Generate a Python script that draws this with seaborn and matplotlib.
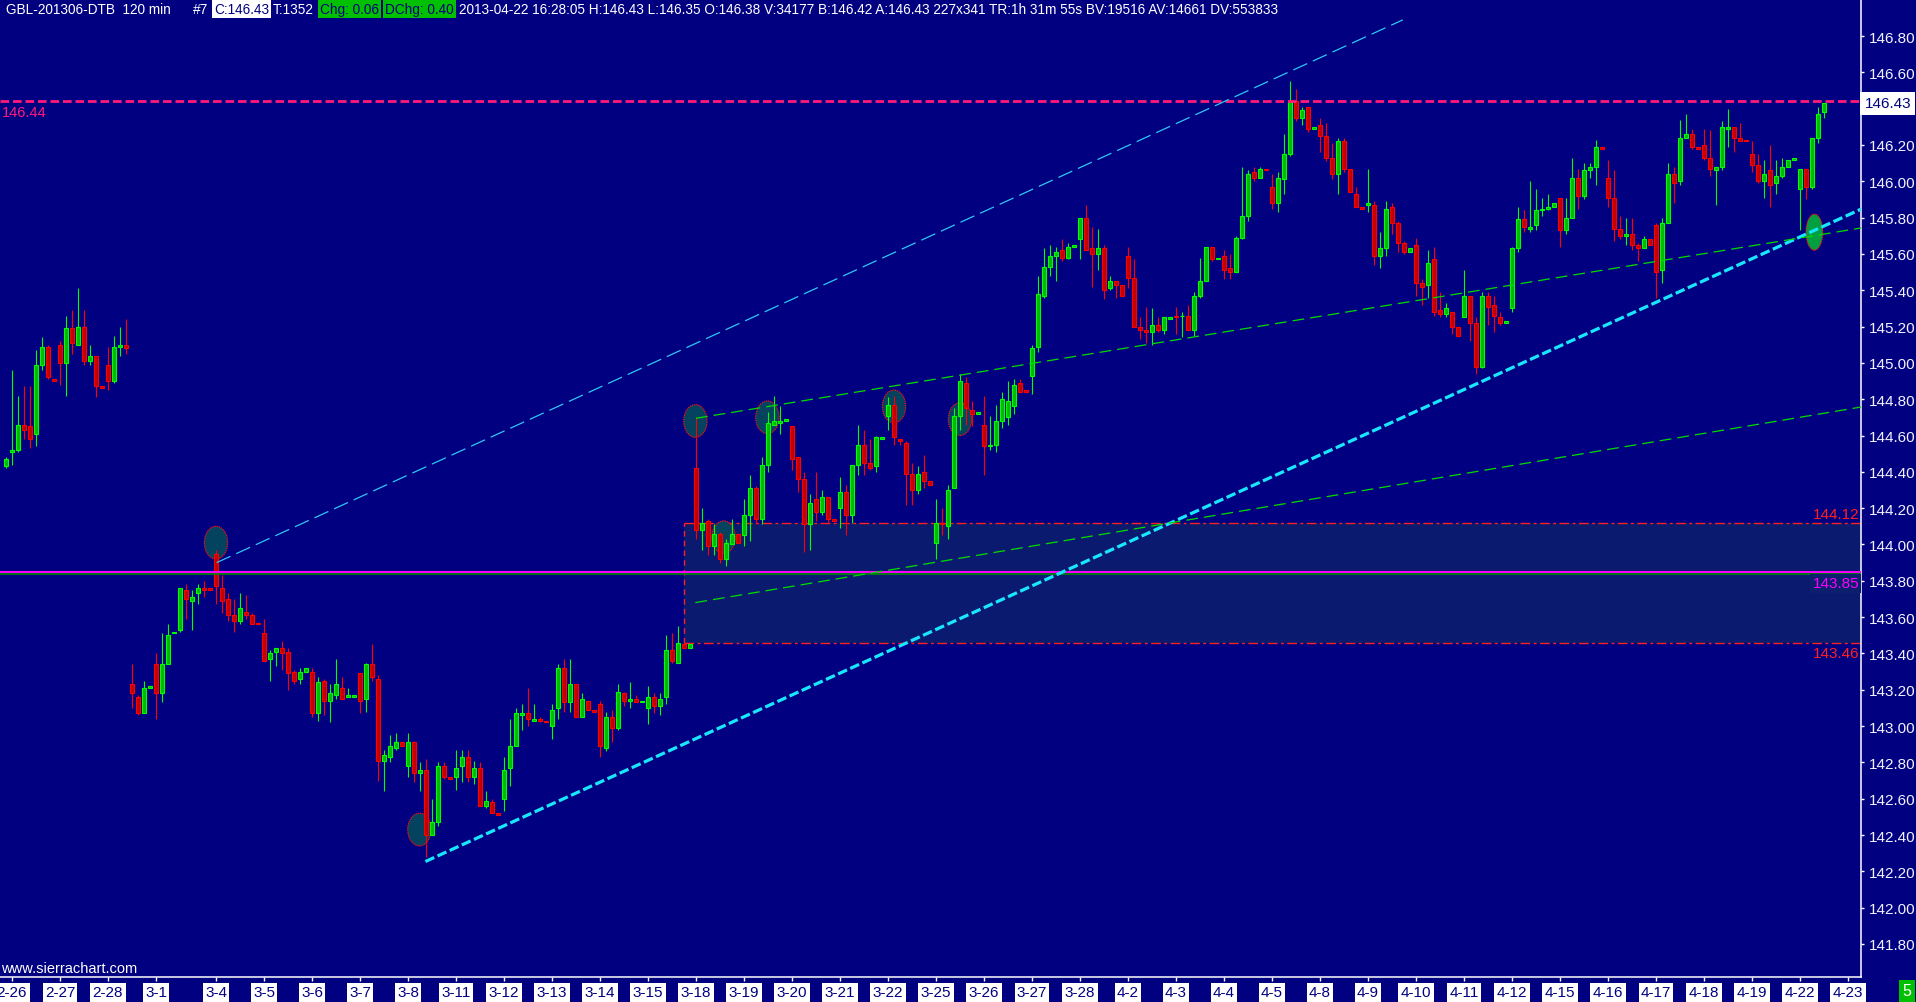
import numpy as np
import pandas as pd
import matplotlib
matplotlib.use("Agg")
import matplotlib.pyplot as plt
from matplotlib.patches import Ellipse, Rectangle
import seaborn as sns

# 120 min bars of GBL-201306-DTB, one entry per bar (bar index = x position)
opens = [
    144.43, 144.51, 144.52, 144.66, 144.65, 144.61, 144.99, 145.09, 144.91, 145.10,
    145.00, 145.19, 145.10, 145.20, 145.01, 145.04, 144.87, 144.99, 144.90, 145.09,
    145.10, 143.23, 143.16, 143.07, 143.21, 143.34, 143.18, 143.34, 143.51, 143.53,
    143.75, 143.69, 143.73, 143.76, 143.76, 143.95, 143.76, 143.70, 143.61, 143.58,
    143.63, 143.61, 143.57, 143.51, 143.37, 143.41, 143.43, 143.41, 143.30, 143.26,
    143.30, 143.30, 143.07, 143.25, 143.14, 143.17, 143.21, 143.16, 143.16, 143.29,
    143.15, 143.34, 143.26, 142.81, 142.83, 142.88, 142.91, 142.78, 142.91, 142.74,
    142.76, 142.40, 142.47, 142.78, 142.72, 142.72, 142.78, 142.83, 142.72, 142.77,
    142.56, 142.58, 142.52, 142.60, 142.77, 142.89, 143.06, 143.07, 143.03, 143.04,
    143.03, 143.00, 143.10, 143.32, 143.13, 143.23, 143.05, 143.14, 143.09, 143.12,
    142.88, 143.05, 142.99, 143.18, 143.14, 143.15, 143.13, 143.10, 143.16, 143.11,
    143.16, 143.42, 143.35, 143.45, 143.43, 144.42, 144.08, 144.13, 143.99, 144.06,
    143.92, 144.00, 144.06, 144.05, 144.16, 144.31, 144.14, 144.44, 144.66, 144.67,
    144.68, 144.65, 144.48, 144.36, 144.11, 144.25, 144.18, 144.26, 144.14, 144.20,
    144.29, 144.16, 144.44, 144.55, 144.45, 144.43, 144.58, 144.71, 144.77, 144.58,
    144.56, 144.39, 144.30, 144.40, 144.35, 144.01, 144.12, 144.10, 144.31, 144.71,
    144.89, 144.74, 144.72, 144.66, 144.54, 144.55, 144.68, 144.70, 144.76, 144.89,
    144.85, 144.93, 145.09, 145.37, 145.53, 145.59, 145.62, 145.58, 145.64, 145.68,
    145.80, 145.63, 145.60, 145.63, 145.41, 145.45, 145.43, 145.59, 145.47, 145.20,
    145.18, 145.17, 145.21, 145.18, 145.24, 145.26, 145.26, 145.26, 145.18, 145.37,
    145.45, 145.64, 145.57, 145.59, 145.52, 145.50, 145.69, 145.81, 146.05, 146.02,
    146.07, 145.97, 145.88, 146.01, 146.15, 146.44, 146.35, 146.41, 146.29, 146.31,
    146.25, 146.13, 146.04, 146.22, 146.07, 145.93, 145.86, 145.87, 145.87, 145.59,
    145.63, 145.86, 145.77, 145.66, 145.61, 145.65, 145.44, 145.43, 145.57, 145.29,
    145.27, 145.28, 145.20, 145.25, 145.37, 145.22, 144.98, 145.37, 145.32, 145.25,
    145.22, 145.30, 145.63, 145.79, 145.74, 145.76, 145.84, 145.85, 145.86, 145.91,
    145.73, 145.80, 146.02, 145.92, 146.06, 146.08, 146.19, 146.02, 145.91, 145.74,
    145.70, 145.71, 145.65, 145.63, 145.68, 145.76, 145.51, 145.77, 146.04, 146.00,
    146.24, 146.26, 146.19, 146.20, 146.13, 146.06, 146.08, 146.29, 146.30, 146.24,
    146.23, 146.15, 146.09, 146.00, 146.06, 145.99, 146.03, 146.08, 146.12, 145.96,
    146.07, 145.97, 146.24, 146.38,
]
highs = [
    144.48, 144.96, 144.82, 144.87, 144.87, 145.07, 145.14, 145.10, 144.91, 145.12,
    145.26, 145.29, 145.41, 145.29, 145.10, 145.04, 144.87, 145.09, 145.15, 145.20,
    145.24, 143.34, 143.17, 143.25, 143.22, 143.40, 143.51, 143.56, 143.52, 143.76,
    143.78, 143.75, 143.78, 143.80, 143.76, 143.97, 143.83, 143.73, 143.70, 143.73,
    143.72, 143.62, 143.57, 143.59, 143.42, 143.43, 143.47, 143.43, 143.31, 143.32,
    143.32, 143.32, 143.27, 143.26, 143.23, 143.37, 143.27, 143.21, 143.17, 143.29,
    143.35, 143.45, 143.28, 142.87, 142.95, 142.96, 142.91, 142.96, 142.92, 142.80,
    142.82, 142.60, 142.80, 142.80, 142.72, 142.87, 142.87, 142.87, 142.81, 142.80,
    142.64, 142.60, 142.52, 142.83, 143.04, 143.10, 143.12, 143.21, 143.12, 143.05,
    143.03, 143.12, 143.34, 143.37, 143.37, 143.23, 143.18, 143.14, 143.09, 143.14,
    143.08, 143.09, 143.23, 143.19, 143.24, 143.17, 143.14, 143.22, 143.18, 143.18,
    143.50, 143.51, 143.55, 143.46, 143.45, 144.70, 144.20, 144.14, 144.11, 144.07,
    144.03, 144.14, 144.06, 144.25, 144.38, 144.32, 144.48, 144.73, 144.82, 144.76,
    144.69, 144.65, 144.48, 144.40, 144.28, 144.40, 144.30, 144.26, 144.14, 144.37,
    144.33, 144.44, 144.66, 144.63, 144.58, 144.60, 144.59, 144.81, 144.82, 144.58,
    144.57, 144.45, 144.43, 144.49, 144.35, 144.25, 144.20, 144.33, 144.75, 144.94,
    144.92, 144.79, 144.73, 144.82, 144.71, 144.77, 144.84, 144.90, 144.91, 144.91,
    144.85, 145.10, 145.48, 145.63, 145.65, 145.64, 145.68, 145.66, 145.65, 145.80,
    145.87, 145.75, 145.74, 145.65, 145.48, 145.45, 145.43, 145.64, 145.57, 145.25,
    145.31, 145.30, 145.25, 145.25, 145.25, 145.31, 145.28, 145.32, 145.39, 145.58,
    145.64, 145.64, 145.58, 145.62, 145.60, 145.70, 146.08, 146.06, 146.08, 146.08,
    146.07, 146.04, 146.05, 146.26, 146.55, 146.51, 146.41, 146.41, 146.30, 146.35,
    146.32, 146.21, 146.24, 146.24, 146.07, 145.97, 145.86, 146.07, 145.89, 145.72,
    145.89, 145.88, 145.78, 145.67, 145.63, 145.69, 145.46, 145.62, 145.64, 145.39,
    145.33, 145.28, 145.20, 145.51, 145.37, 145.25, 145.39, 145.39, 145.37, 145.28,
    145.23, 145.64, 145.86, 145.84, 146.00, 145.96, 145.91, 145.93, 145.88, 145.91,
    145.91, 146.13, 146.07, 146.10, 146.10, 146.23, 146.19, 146.12, 146.06, 145.81,
    145.80, 145.80, 145.66, 145.70, 145.68, 145.77, 145.80, 146.10, 146.08, 146.34,
    146.37, 146.29, 146.19, 146.29, 146.28, 146.08, 146.33, 146.40, 146.30, 146.32,
    146.23, 146.22, 146.15, 146.12, 146.20, 146.12, 146.13, 146.12, 146.13, 146.07,
    146.07, 146.24, 146.41, 146.43,
]
lows = [
    144.42, 144.44, 144.51, 144.58, 144.53, 144.54, 144.96, 144.91, 144.90, 144.88,
    144.82, 145.05, 145.10, 144.99, 144.99, 144.81, 144.86, 144.85, 144.89, 145.04,
    145.05, 143.10, 143.06, 143.07, 143.21, 143.04, 143.13, 143.34, 143.51, 143.52,
    143.59, 143.53, 143.67, 143.71, 143.75, 143.67, 143.62, 143.58, 143.52, 143.56,
    143.59, 143.56, 143.56, 143.36, 143.25, 143.33, 143.31, 143.20, 143.23, 143.23,
    143.30, 143.05, 143.03, 143.06, 143.02, 143.15, 143.15, 143.16, 143.16, 143.07,
    143.08, 143.25, 142.70, 142.64, 142.80, 142.87, 142.89, 142.72, 142.69, 142.64,
    142.28, 142.40, 142.45, 142.71, 142.71, 142.65, 142.69, 142.69, 142.68, 142.56,
    142.55, 142.52, 142.51, 142.53, 142.67, 142.89, 142.98, 143.00, 143.03, 143.02,
    143.02, 142.93, 143.04, 143.08, 143.08, 143.05, 143.05, 143.09, 143.08, 142.83,
    142.86, 142.91, 142.98, 143.11, 143.10, 143.13, 143.13, 143.01, 143.07, 143.06,
    143.12, 143.35, 143.35, 143.43, 143.43, 144.03, 143.97, 143.94, 143.94, 143.90,
    143.88, 144.00, 144.01, 143.99, 144.02, 144.11, 144.11, 144.40, 144.66, 144.61,
    144.68, 144.41, 144.29, 143.96, 143.97, 144.13, 144.16, 144.12, 144.13, 144.09,
    144.05, 144.12, 144.38, 144.38, 144.41, 144.40, 144.58, 144.63, 144.55, 144.55,
    144.22, 144.22, 144.28, 144.31, 144.33, 143.92, 144.05, 144.03, 144.31, 144.63,
    144.66, 144.65, 144.72, 144.38, 144.52, 144.51, 144.64, 144.66, 144.72, 144.84,
    144.84, 144.83, 145.06, 145.36, 145.48, 145.45, 145.56, 145.57, 145.64, 145.57,
    145.62, 145.42, 145.51, 145.35, 145.40, 145.36, 145.37, 145.41, 145.20, 145.13,
    145.11, 145.10, 145.17, 145.16, 145.24, 145.16, 145.14, 145.18, 145.15, 145.36,
    145.45, 145.56, 145.57, 145.46, 145.46, 145.50, 145.68, 145.78, 146.00, 146.02,
    146.06, 145.85, 145.83, 145.93, 146.14, 146.33, 146.31, 146.27, 146.29, 146.16,
    146.11, 146.01, 145.93, 146.05, 145.94, 145.86, 145.85, 145.83, 145.54, 145.52,
    145.59, 145.71, 145.61, 145.60, 145.61, 145.37, 145.32, 145.36, 145.26, 145.25,
    145.25, 145.16, 145.15, 145.25, 145.12, 144.94, 144.97, 145.21, 145.17, 145.21,
    145.22, 145.28, 145.61, 145.72, 145.72, 145.73, 145.81, 145.84, 145.86, 145.64,
    145.71, 145.80, 145.85, 145.90, 146.02, 145.98, 146.18, 145.86, 145.67, 145.68,
    145.65, 145.62, 145.56, 145.63, 145.65, 145.36, 145.44, 145.77, 145.88, 145.98,
    146.24, 146.18, 146.18, 146.12, 146.03, 145.87, 146.06, 146.19, 146.16, 146.22,
    146.22, 146.05, 145.99, 145.91, 145.86, 145.93, 146.02, 146.08, 146.12, 145.73,
    145.90, 145.96, 146.21, 146.35,
]
closes = [
    144.47, 144.52, 144.66, 144.63, 144.58, 144.99, 145.09, 144.92, 144.90, 145.00,
    145.19, 145.11, 145.20, 145.01, 145.04, 144.87, 144.86, 144.90, 145.09, 145.10,
    145.08, 143.18, 143.07, 143.21, 143.22, 143.18, 143.34, 143.50, 143.52, 143.76,
    143.70, 143.71, 143.76, 143.75, 143.75, 143.77, 143.69, 143.61, 143.58, 143.65,
    143.61, 143.56, 143.56, 143.36, 143.40, 143.43, 143.40, 143.29, 143.25, 143.30,
    143.32, 143.07, 143.24, 143.14, 143.18, 143.23, 143.15, 143.17, 143.17, 143.14,
    143.34, 143.27, 142.81, 142.84, 142.89, 142.91, 142.89, 142.91, 142.74, 142.76,
    142.40, 142.47, 142.78, 142.72, 142.71, 142.77, 142.83, 142.72, 142.77, 142.56,
    142.59, 142.52, 142.51, 142.76, 142.89, 143.07, 143.07, 143.04, 143.04, 143.03,
    143.02, 143.09, 143.32, 143.13, 143.23, 143.05, 143.15, 143.09, 143.08, 142.89,
    143.05, 142.99, 143.19, 143.14, 143.15, 143.13, 143.14, 143.16, 143.11, 143.15,
    143.42, 143.36, 143.46, 143.43, 143.45, 144.08, 144.12, 143.99, 144.06, 143.92,
    144.01, 144.06, 144.01, 144.16, 144.31, 144.14, 144.44, 144.67, 144.68, 144.68,
    144.69, 144.47, 144.36, 144.11, 144.23, 144.18, 144.26, 144.14, 144.13, 144.29,
    144.16, 144.44, 144.55, 144.45, 144.42, 144.59, 144.59, 144.77, 144.59, 144.57,
    144.39, 144.30, 144.39, 144.35, 144.33, 144.12, 144.11, 144.30, 144.71, 144.90,
    144.75, 144.72, 144.73, 144.54, 144.55, 144.68, 144.80, 144.79, 144.88, 144.84,
    144.84, 145.08, 145.38, 145.53, 145.59, 145.61, 145.58, 145.64, 145.65, 145.80,
    145.62, 145.60, 145.63, 145.40, 145.45, 145.43, 145.37, 145.47, 145.20, 145.18,
    145.17, 145.21, 145.18, 145.25, 145.25, 145.25, 145.26, 145.18, 145.37, 145.45,
    145.64, 145.57, 145.58, 145.51, 145.50, 145.69, 145.81, 146.04, 146.02, 146.07,
    146.06, 145.88, 146.02, 146.15, 146.44, 146.35, 146.39, 146.29, 146.30, 146.25,
    146.13, 146.04, 146.22, 146.07, 145.94, 145.86, 145.85, 145.88, 145.59, 145.63,
    145.85, 145.77, 145.66, 145.61, 145.63, 145.44, 145.42, 145.55, 145.28, 145.27,
    145.30, 145.20, 145.15, 145.37, 145.22, 144.98, 145.37, 145.31, 145.26, 145.22,
    145.23, 145.63, 145.79, 145.75, 145.75, 145.84, 145.85, 145.86, 145.88, 145.73,
    145.80, 146.02, 145.92, 146.06, 146.08, 146.19, 146.18, 145.91, 145.74, 145.70,
    145.71, 145.65, 145.63, 145.68, 145.65, 145.50, 145.77, 146.04, 145.99, 146.24,
    146.26, 146.19, 146.18, 146.13, 146.07, 146.08, 146.30, 146.30, 146.24, 146.22,
    146.22, 146.09, 146.00, 146.04, 145.98, 146.03, 146.08, 146.12, 146.13, 146.07,
    145.97, 146.24, 146.37, 146.43,
]

# session dates and the bar where each one starts
day_labels = ['2-26', '2-27', '2-28', '3-1', '3-4', '3-5', '3-6', '3-7', '3-8',
              '3-11', '3-12', '3-13', '3-14', '3-15', '3-18', '3-19', '3-20',
              '3-21', '3-22', '3-25', '3-26', '3-27', '3-28', '4-2', '4-3',
              '4-4', '4-5', '4-8', '4-9', '4-10', '4-11', '4-12', '4-15',
              '4-16', '4-17', '4-18', '4-19', '4-22', '4-23']
day_start_bar = [1, 9, 17, 25, 35, 43, 51, 59, 67, 75, 83, 91, 99, 107, 115,
                 123, 131, 139, 147, 155, 163, 171, 179, 187, 195, 203, 211,
                 219, 227, 235, 243, 251, 259, 267, 275, 283, 291, 299, 307]

# drawn tools: (bar, price) end points
channel_top = [(35.1, 143.90), (232.8, 146.889)]
channel_bottom = [(69.9, 142.254), (309.2, 145.847)]
green_upper = [(115.0, 144.695), (309.2, 145.743)]
green_lower = [(114.9, 143.680), (309.2, 144.757)]
marked_highs = [(35.0, 144.01), (68.9, 142.43), (114.9, 144.68), (119.6, 144.04),
                (126.9, 144.70), (148.0, 144.76), (159.0, 144.69)]
marked_last = (301.4, 145.72)
resistance = 146.44
pivot_line = 143.85
pivot_green = 143.84
zone_start_bar = 113
zone_top = 144.12
zone_bottom = 143.46
last_price = 146.43

NAVY = '#000080'
W, H = 1916, 1003

sns.set_theme(style='dark', rc={'axes.facecolor': NAVY, 'figure.facecolor': NAVY,
                                'axes.grid': False, 'lines.scale_dashes': False})
plt.rcParams['font.family'] = ['Liberation Sans', 'DejaVu Sans']

fig = plt.figure(figsize=(W / 100, H / 100), dpi=100)
ax = fig.add_axes([0, 25 / H, 1861 / W, 978 / H])

x_right = 309.17
ax.set_xlim(-1, x_right)
ax.set_ylim(141.618, 147.004)

# zone
ax.add_patch(Rectangle((zone_start_bar, zone_bottom), x_right - zone_start_bar + 2,
                       zone_top - zone_bottom, facecolor='#0a1a6e', edgecolor='none', zorder=1))
ax.hlines([zone_top, zone_bottom], zone_start_bar, x_right + 1, colors='#ff2020', lw=1,
          linestyles=[(0, (7, 2.5, 2, 2.5))], zorder=2)
ax.vlines(zone_start_bar, zone_bottom, zone_top, colors='#ff2020', lw=1,
          linestyles=[(0, (4, 3))], zorder=2)

# marked swing points
for bx, py in marked_highs:
    ax.add_patch(Ellipse((bx, py), 3.9, 0.18, facecolor='#03435f', edgecolor='#ff1010',
                         lw=0.8, linestyle=(0, (1, 0.6)), zorder=2))
ax.add_patch(Ellipse(marked_last, 2.8, 0.198, facecolor='#00a040', edgecolor='#ff1010',
                     lw=0.8, linestyle=(0, (1, 0.6)), zorder=2))

# candles
bars = pd.DataFrame({'o': opens, 'h': highs, 'l': lows, 'c': closes})
bars['x'] = np.arange(len(bars))
up = bars['c'] >= bars['o']
for mask, edge, face in [(up, '#00ff00', '#00b800'), (~up, '#ff0000', '#c00000')]:
    d = bars[mask]
    ax.vlines(d['x'], d['l'], d['h'], colors=edge, lw=0.8, zorder=3)
    ax.bar(d['x'], (d['c'] - d['o']).abs(), bottom=d[['o', 'c']].min(axis=1),
           width=0.62, color=face, edgecolor=edge, linewidth=0.8, zorder=4)

# horizontal levels
ax.axhline(pivot_green, color='#009000', lw=1.1, zorder=5)
ax.axhline(pivot_line, color='#ff00ff', lw=1.4, zorder=5)
ax.axhline(resistance, color='#ff1a7a', lw=2.0, linestyle=(0, (6.2, 2.8)), zorder=5)

# trend lines
for pts, col, lw, ls in [
    (channel_top, '#2ec8f5', 0.9, (0, (11, 4.5))),
    (channel_bottom, '#19e6ff', 2.3, (0, (7, 2.6))),
    (green_upper, '#00dd00', 0.9, (0, (8.5, 4.3))),
    (green_lower, '#00dd00', 0.9, (0, (8.5, 4.3))),
]:
    sns.lineplot(x=[p[0] for p in pts], y=[p[1] for p in pts], ax=ax, color=col,
                 lw=lw, linestyle=ls, zorder=6)

# level labels
ytr = ax.get_yaxis_transform()
ax.text(0.0012, resistance - 0.02, f'{resistance:.2f}', transform=ytr, color='#ff1a7a',
        fontsize=10.5, ha='left', va='top', zorder=7)
ax.text(0.999, zone_top + 0.01, f'{zone_top:.2f}', transform=ytr, color='#ff2020',
        fontsize=11, ha='right', va='bottom', zorder=7)
ax.text(0.999, zone_bottom - 0.02, f'{zone_bottom:.2f}', transform=ytr, color='#ff2020',
        fontsize=11, ha='right', va='top', zorder=7)
ax.text(0.999, pivot_line - 0.025, f'{pivot_line:.2f}', transform=ytr, color='#ff00ff',
        fontsize=11, ha='right', va='top', zorder=7,
        bbox=dict(boxstyle='square,pad=0.15', facecolor='#0c1f6e', edgecolor='none'))
ax.annotate(f'{last_price:.2f}', xy=(1, last_price), xycoords=ytr, xytext=(2.5, 0),
            textcoords='offset points', ha='left', va='center', color=NAVY, fontsize=11,
            bbox=dict(boxstyle='square,pad=0.28', facecolor='white', edgecolor='none'),
            annotation_clip=False, zorder=8)
ax.text(0.0005, 0.0095, 'www.sierrachart.com', transform=ax.transAxes, color='white',
        fontsize=10.5, ha='left', va='center')

# axes
for side in ['top', 'left']:
    ax.spines[side].set_visible(False)
for side in ['right', 'bottom']:
    ax.spines[side].set_visible(True)
    ax.spines[side].set_color('white')
    ax.spines[side].set_linewidth(1.1)

ax.yaxis.tick_right()
yticks = np.round(np.arange(141.8, 146.81, 0.2), 2)
ax.set_yticks(yticks)
# the last-price box sits on top of the 146.40 label, so that one stays blank
ax.set_yticklabels(['' if abs(v - last_price) < 0.05 else f'{v:.2f}' for v in yticks])
ax.tick_params(axis='y', which='both', right=True, left=False, direction='out',
               length=2.5, width=1, color='white', pad=3.5, labelsize=11,
               labelcolor='#f2f2ff')
ax.set_xticks(day_start_bar)
ax.set_xticklabels(day_labels)
ax.tick_params(axis='x', which='both', bottom=True, direction='out', length=3, width=1,
               color='white', pad=3, labelsize=11, labelcolor=NAVY)
for lab in ax.get_xticklabels():
    lab.set_bbox(dict(boxstyle='square,pad=0.15', facecolor='white', edgecolor='none'))
ax.set_xlabel('')
ax.set_ylabel('')

# header line
hy = 1 - 10 / H
hs = 9.8
box_white = dict(boxstyle='square,pad=0.15', facecolor='white', edgecolor='none')
box_green = dict(boxstyle='square,pad=0.15', facecolor='#00c000', edgecolor='none')
fig.text(6 / W, hy, 'GBL-201306-DTB  120 min', color='white', fontsize=hs, va='center')
fig.text(193 / W, hy, '#7', color='white', fontsize=hs, va='center')
fig.text(214 / W, hy, 'C:146.43', color=NAVY, fontsize=hs, va='center', bbox=box_white)
fig.text(273 / W, hy, 'T:1352', color='white', fontsize=hs, va='center')
fig.text(320 / W, hy, 'Chg: 0.06', color=NAVY, fontsize=hs, va='center', bbox=box_green)
fig.text(385 / W, hy, 'DChg: 0.40', color=NAVY, fontsize=hs, va='center', bbox=box_green)
fig.text(459 / W, hy, '2013-04-22 16:28:05 H:146.43 L:146.35 O:146.38 V:34177 B:146.42 '
         'A:146.43 227x341 TR:1h 31m 55s BV:19516 AV:14661 DV:553833',
         color='white', fontsize=hs, va='center')

fig.text(1907 / W, 1 - 992 / H, '5', color='white', fontsize=11.5, ha='center', va='center',
         bbox=dict(boxstyle='square,pad=0.2', facecolor='#00c000', edgecolor='none'))

fig.savefig('out.png', dpi=100, facecolor=NAVY)
